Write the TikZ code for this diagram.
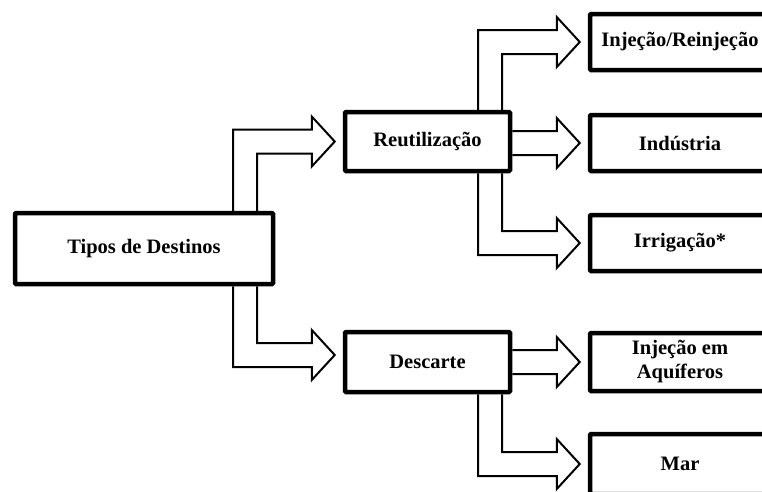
\documentclass[tikz,border=0pt]{standalone}
\usepackage{fontspec}
\setmainfont{Liberation Serif}
\usetikzlibrary{calc}

\tikzset{
  destbox/.style={draw,line width=4.5pt,rounded corners=1pt,inner sep=0pt,
    align=center,font=\bfseries\fontsize{20.5}{24}\selectfont},
  blockarrow/.style={draw,line width=2pt,line join=miter},
}

% seta em L: [desvio da ponta]{ancora de saida}{destino}{x do fuste}{-1 sobe / 1 desce}
\newcommand\bentarrow[5][0]{%
  \coordinate (src) at (#2);
  \coordinate (shx) at (#4,0);
  \coordinate (tip) at ($(#3.west)+(-8,#1)$);
  \coordinate (outer) at ($(tip)+(0,{12*(#5)})$);
  \coordinate (inner) at ($(tip)+(0,{-12*(#5)})$);
  \draw[blockarrow] (src -| shx) -- (shx |- outer) -- ($(outer)+(-23,0)$)
    -- ($(tip)+(-23,{25*(#5)})$) -- (tip) -- ($(tip)+(-23,{-25*(#5)})$)
    -- ($(inner)+(-23,0)$) -- ($(shx |- inner)+(24,0)$) -- ($(src -| shx)+(24,0)$);
}
% seta reta: {origem}{destino}
\newcommand\flatarrow[2]{%
  \coordinate (tip) at ($(#2.west)+(-8,0)$);
  \draw[blockarrow] ($(#1.east |- tip)+(0,-12)$) -- ($(tip)+(-23,-12)$)
    -- ($(tip)+(-23,-25)$) -- (tip) -- ($(tip)+(-23,25)$)
    -- ($(tip)+(-23,12)$) -- ($(#1.east |- tip)+(0,12)$);
}

\begin{document}
\begin{tikzpicture}[x=1pt,y=-1pt]
\useasboundingbox (0,0) rectangle (762,491);
\clip (0,0) rectangle (762,491);
% caixas
\node[destbox,minimum width=258pt,minimum height=71pt] (tipos) at (144,248.5) {Tipos de Destinos};
\node[destbox,minimum width=165pt,minimum height=59pt] (reut) at (427.5,141.5) {Reutilização};
\node[destbox,minimum width=165pt,minimum height=60pt] (desc) at (427.5,362) {Descarte};
\node[destbox,minimum width=180pt,minimum height=56pt] (inj) at (680,42) {Injeção/Reinjeção};
\node[destbox,minimum width=180pt,minimum height=56pt] (ind) at (680,143) {Indústria};
\node[destbox,minimum width=180pt,minimum height=56pt] (irr) at (680,243) {Irrigação*};
\node[destbox,minimum width=180pt,minimum height=58pt] (aqu) at (680,362) {Injeção em\\Aquíferos};
\node[destbox,minimum width=180pt,minimum height=60pt] (mar) at (680,464) {Mar};
% setas
\bentarrow{tipos.north}{reut}{233}{-1}
\bentarrow[-7]{tipos.south}{desc}{233}{1}
\bentarrow{reut.north}{inj}{478}{-1}
\flatarrow{reut}{ind}
\bentarrow{reut.south}{irr}{478}{1}
\flatarrow{desc}{aqu}
\bentarrow{desc.south}{mar}{478}{1}
\end{tikzpicture}
\end{document}
